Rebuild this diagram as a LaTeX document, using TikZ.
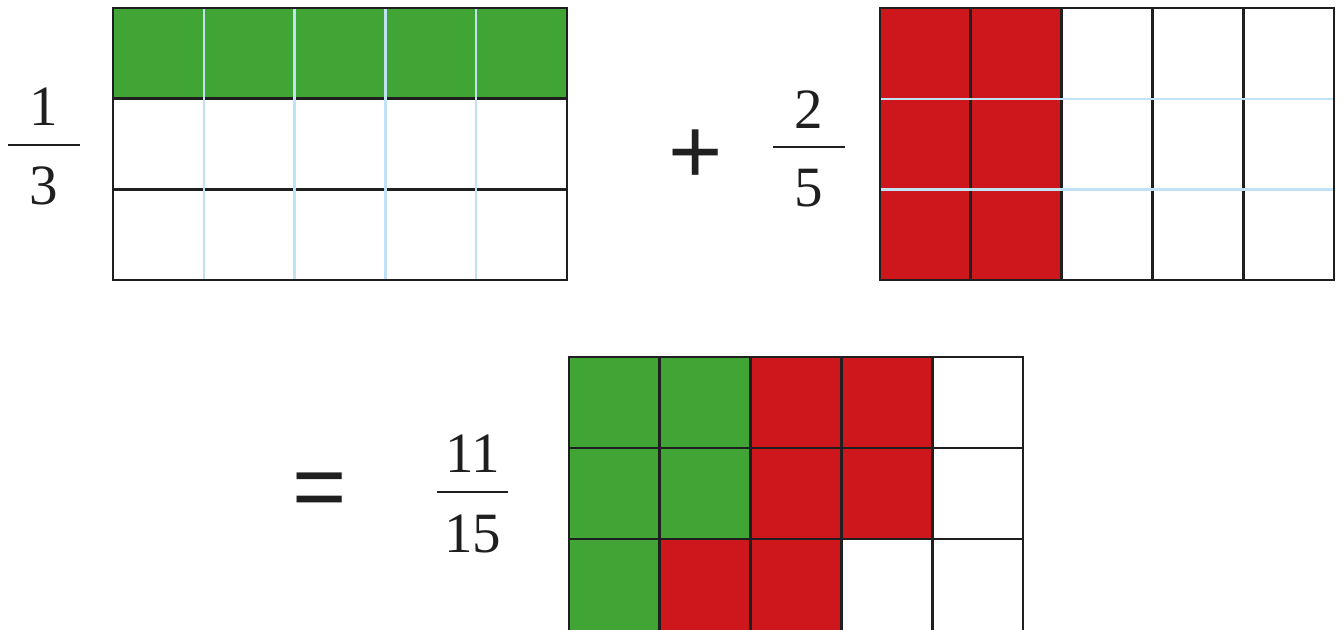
\documentclass[tikz,border=0pt]{standalone}
\usepackage{fontspec}
\newfontfamily\signfont{Liberation Sans}
\newfontfamily\digitfont{Liberation Serif}
\usetikzlibrary{positioning}

\definecolor{fracgreen}{RGB}{64,165,53}
\definecolor{fracred}{RGB}{206,23,29}
\definecolor{paleblue}{RGB}{192,226,245}

\tikzset{
    digit/.style={anchor=base, inner sep=0pt, text=black!88, font=\digitfont\fontsize{57}{68}\selectfont},
    sign/.style={inner sep=0pt, text=black!88, font=\signfont\fontsize{93}{93}\selectfont},
    cellline/.style={line width=2.7pt, color=black!88},
    paleline/.style={line width=2.4pt, color=paleblue},
    fracbar/.style={line width=2.7pt, color=black!88},
}

\begin{document}
\begin{tikzpicture}[x=1pt, y=-1pt]
    \useasboundingbox (0,0) rectangle (1343,629);
    %%% First row
    % one third
    \node[digit] (thirdnum) at (44,125) {1};
    \node[digit] (thirdden) at (44,204) {3};
    \draw[fracbar] (8,145) -- (80,145);
    \fill[fracgreen] (113,8) rectangle (567,98.7); % shaded row
    \draw[cellline] (113,98.7) -- (567,98.7) (113,189.3) -- (567,189.3);
    \draw[paleline] (203.8,8) -- (203.8,280) (294.6,8) -- (294.6,280)
                    (385.4,8) -- (385.4,280) (476.2,8) -- (476.2,280);
    \draw[cellline] (113,8) rectangle (567,280);
    %
    \node[sign] (plus) at (696,157) {+};
    %
    % two fifths
    \node[digit] (fifthnum) at (809,128) {2};
    \node[digit] (fifthden) at (809,206) {5};
    \draw[fracbar] (773,147) -- (845,147);
    \fill[fracred] (880,8) rectangle (1061.6,280); % shaded columns
    \draw[cellline] (970.8,8) -- (970.8,280) (1061.6,8) -- (1061.6,280)
                    (1152.4,8) -- (1152.4,280) (1243.2,8) -- (1243.2,280);
    \draw[paleline] (880,98.7) -- (1334,98.7) (880,189.3) -- (1334,189.3);
    \draw[cellline] (880,8) rectangle (1334,280);
    %
    %%% Second row
    \node[sign] (equals) at (319.5,495.5) {=};
    %
    % eleven fifteenths (bottom edge runs off the page)
    \node[digit] (sumnum) at (472.5,472) {11};
    \node[digit] (sumden) at (472.5,552) {15};
    \draw[fracbar] (437,492) -- (508,492);
    \fill[fracgreen] (569,357) rectangle (750.6,539) (569,539) rectangle (659.8,632);
    \fill[fracred] (750.6,357) rectangle (932.2,539) (659.8,539) rectangle (841.4,632);
    \draw[cellline] (659.8,357) -- (659.8,632) (750.6,357) -- (750.6,632)
                    (841.4,357) -- (841.4,632) (932.2,357) -- (932.2,632);
    \draw[cellline] (569,448) -- (1023,448) (569,539) -- (1023,539);
    \draw[cellline] (569,357) rectangle (1023,632);
\end{tikzpicture}
\end{document}
